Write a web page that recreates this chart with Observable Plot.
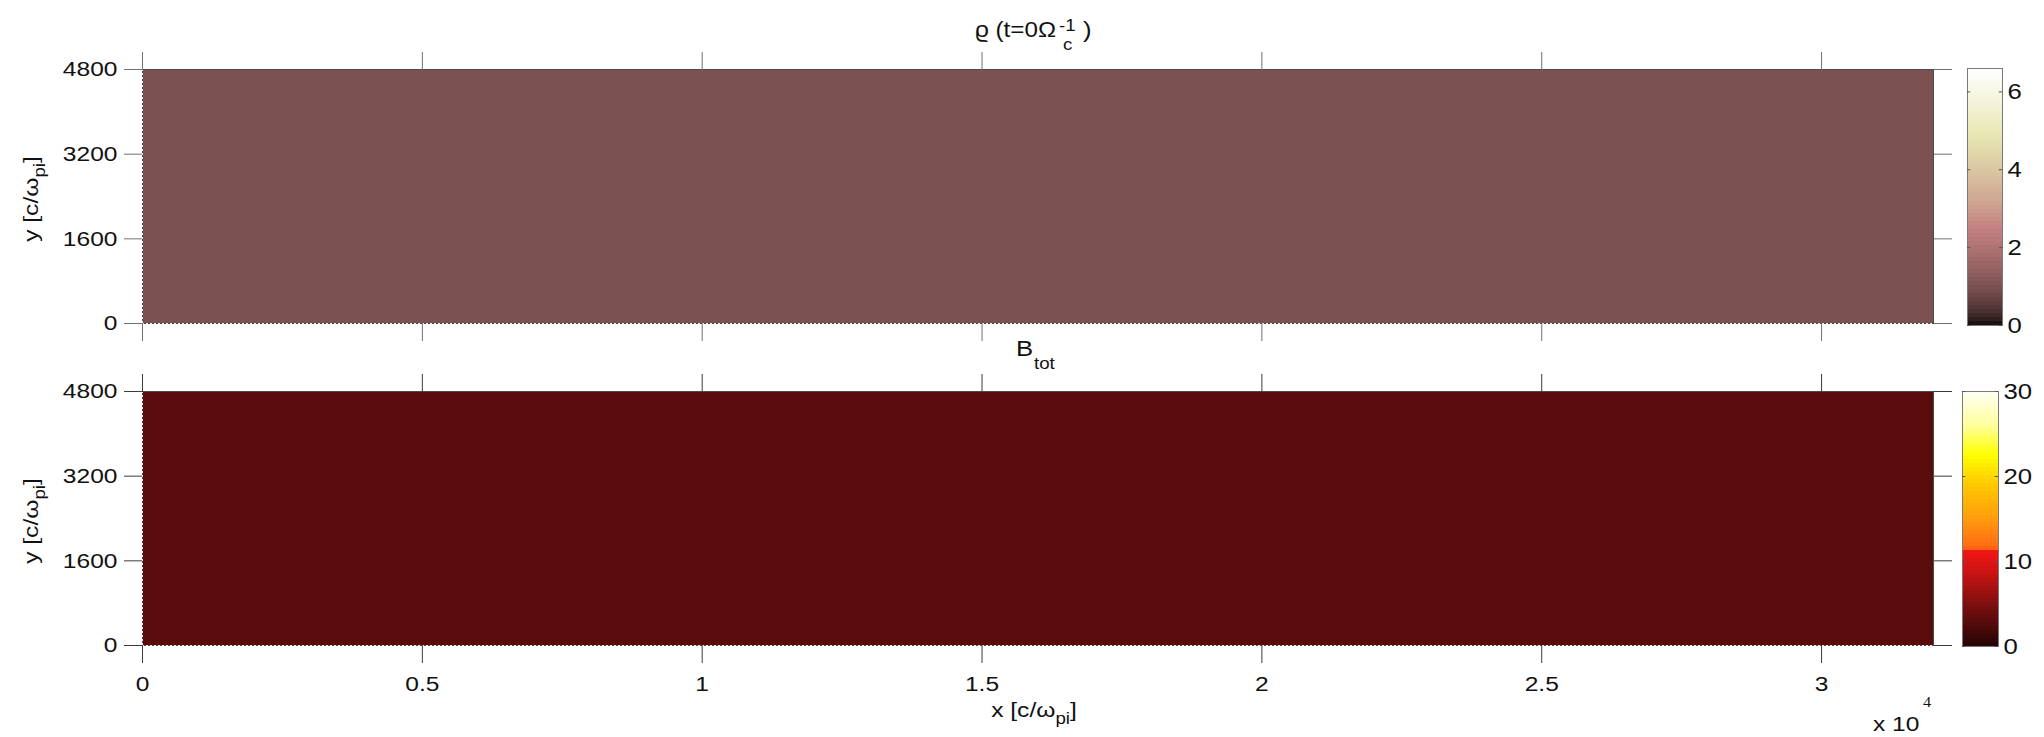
<!DOCTYPE html>
<html>
<head>
<meta charset="utf-8">
<script src="https://cdn.jsdelivr.net/npm/d3@7"></script>
<script src="https://cdn.jsdelivr.net/npm/@observablehq/plot@0.6"></script>
<style>
  body { margin: 0; background: #fff; }
  #fig { position: relative; width: 2044px; height: 737px; overflow: hidden; background: #fff;
         font-family: "Liberation Sans", Arial, Helvetica, sans-serif; }
  #fig svg { position: absolute; left: 0; top: 0; overflow: visible; }
</style>
</head>
<body>
<div id="fig"></div>
<script>
// Simulation box and axis ticks
const xRange = [0, 32000];
const yRange = [0, 4800];
const xTicks = [0, 5000, 10000, 15000, 20000, 25000, 30000];
const yTicks = [0, 1600, 3200, 4800];

// Initial fields (uniform at t = 0)
const rhoCells = [{x1: 0, x2: 32000, y1: 0, y2: 4800, value: 1}];
const bCells = [{x1: 0, x2: 32000, y1: 0, y2: 4800, value: 3}];

// Colour limits and colorbar ticks
const rhoLimits = [0, 6.6];
const rhoBarTicks = [0, 2, 4, 6];
const bLimits = [0, 30];
const bBarTicks = [0, 10, 20, 30];

// Colormap for |B|: dark red -> red -> orange -> yellow -> white
const bStops = [0, 3, 6, 9, 11.3, 11.5, 15, 19, 22.5, 26, 30];
const bColors = ["#250404", "#5a0c0c", "#961010", "#d21414", "#f51616", "#ff6a14",
                 "#ff9c0c", "#ffc800", "#ffff00", "#ffff9c", "#fffff6"];

const W = 2044, H = 737;
const FONT = "\"Liberation Sans\", Arial, Helvetica, sans-serif";
const FS = 21;     // font size
const SX = 1.17;   // horizontal stretch of the lettering

// MATLAB-style "pink" colormap: sqrt((2*gray + hot) / 3)
function pink(t) {
  const c = v => Math.max(0, Math.min(1, v));
  const hot = [c(8 * t / 3), c(8 * t / 3 - 1), c(4 * t - 3)];
  const [r, g, b] = hot.map(h => Math.round(255 * Math.sqrt((2 * t + h) / 3)));
  return `rgb(${r},${g},${b})`;
}
const bScale = d3.scaleLinear().domain(bStops).range(bColors).interpolate(d3.interpolateRgb).clamp(true);
const bInterp = t => bScale(bLimits[0] + t * (bLimits[1] - bLimits[0]));

// Layout boxes (plot frames)
const topBox = {left: 142, right: 1933, top: 69, bottom: 323};
const botBox = {left: 142, right: 1933, top: 391, bottom: 645};
const topBar = {left: 1967, right: 2002, top: 68, bottom: 325};
const botBar = {left: 1962, right: 1998, top: 391, bottom: 646};

const fig = document.getElementById("fig");

function frameOpts(box) {
  return {
    width: W, height: H,
    marginLeft: box.left, marginRight: W - box.right,
    marginTop: box.top, marginBottom: H - box.bottom,
    style: {background: "transparent", fontFamily: FONT, fontSize: FS + "px", color: "#111",
            maxWidth: "none", overflow: "visible"}
  };
}

function panel(box, cells, interp, limits, tickColor, showXLabels) {
  return Plot.plot({
    ...frameOpts(box),
    x: {domain: xRange},
    y: {domain: yRange},
    color: {type: "linear", domain: limits, interpolate: interp},
    marks: [
      Plot.rect(cells, {x1: "x1", x2: "x2", y1: "y1", y2: "y2", fill: "value", shapeRendering: "crispEdges"}),
      Plot.frame({stroke: "#4a4a4a", strokeWidth: 1}),
      Plot.ruleX([xRange[0]], {stroke: "#e6e6e6", strokeDasharray: "2,2"}),
      Plot.ruleY([yRange[0]], {stroke: "#e6e6e6", strokeDasharray: "2,2"}),
      Plot.axisY(yTicks, {anchor: "left", tickSize: 18, tickPadding: 7, fontSize: FS,
                          stroke: tickColor, fill: "#111", label: null, tickFormat: d3.format("d")}),
      Plot.axisY(yTicks, {anchor: "right", tickSize: 18, tickFormat: () => "", stroke: tickColor, label: null}),
      Plot.axisX(xTicks, {anchor: "top", tickSize: 18, tickFormat: () => "", stroke: tickColor, label: null}),
      Plot.axisX(xTicks, {anchor: "bottom", tickSize: 18, tickPadding: 13, fontSize: FS,
                          stroke: tickColor, fill: "#111", label: null,
                          tickFormat: showXLabels ? (d => d3.format("~g")(d / 1e4)) : (() => "")})
    ]
  });
}

function colorbar(box, interp, limits, ticks) {
  const n = 64, step = (limits[1] - limits[0]) / n;
  const bands = d3.range(n).map(i => ({
    y1: limits[0] + i * step, y2: limits[0] + (i + 1) * step, v: limits[0] + (i + 0.5) * step
  }));
  return Plot.plot({
    ...frameOpts(box),
    x: {domain: [0, 1], axis: null},
    y: {domain: limits},
    color: {type: "linear", domain: limits, interpolate: interp},
    marks: [
      Plot.rect(bands, {x1: 0, x2: 1, y1: "y1", y2: "y2", fill: "v", shapeRendering: "crispEdges"}),
      Plot.frame({stroke: "#7a7a7a"}),
      Plot.ruleY(ticks, {x1: 0, x2: 0.09, stroke: "#555"}),
      Plot.ruleY(ticks, {x1: 0.91, x2: 1, stroke: "#555"}),
      Plot.axisY(ticks, {anchor: "right", tickSize: 0, tickPadding: 5, fontSize: FS + 1,
                         fill: "#111", label: null})
    ]
  });
}

// Widen each text element horizontally about its own anchor point
function stretchTexts(svg) {
  d3.select(svg).selectAll("text").each(function () {
    const el = d3.select(this);
    const x = +el.attr("x") || 0, y = +el.attr("y") || 0;
    const t = el.attr("transform") || "";
    el.attr("transform", `${t} translate(${x},${y}) scale(${SX},1) translate(${-x},${-y})`);
  });
}

const p1 = panel(topBox, rhoCells, pink, rhoLimits, "#707070", false);
const p2 = panel(botBox, bCells, bInterp, bLimits, "#3c3c3c", true);
const c1 = colorbar(topBar, pink, rhoLimits, rhoBarTicks);
const c2 = colorbar(botBar, bInterp, bLimits, bBarTicks);
[p1, p2, c1, c2].forEach(s => { stretchTexts(s); fig.appendChild(s); });

// Axis labels with subscripts
function label(svg, x, y, parts, rotate) {
  const t = d3.select(svg).append("text")
    .attr("font-family", FONT).attr("font-size", FS).attr("fill", "#111")
    .attr("text-anchor", "middle")
    .attr("transform", `translate(${x},${y})` + (rotate ? " rotate(-90)" : "") + ` scale(${SX},1)`);
  parts.forEach(p => {
    const s = t.append("tspan").text(p.text);
    if (p.size) s.attr("font-size", p.size);
    if (p.dy) s.attr("dy", p.dy);
  });
  return t;
}

const axisLabelParts = v => [
  {text: v + " [c/\u03C9"},
  {text: "pi", size: 16, dy: 7},
  {text: "]", dy: -7}
];
const midTop = (topBox.top + topBox.bottom) / 2;
const midBot = (botBox.top + botBox.bottom) / 2;
label(p1, 38, midTop + 3, axisLabelParts("y"), true);
label(p2, 38, midBot + 3, axisLabelParts("y"), true);
label(p2, 1034, 717, axisLabelParts("x"), false);

// Left-anchored, widened text helper
function startText(g, x, y, size, str) {
  return g.append("text").attr("text-anchor", "start")
    .attr("transform", `translate(${x},${y}) scale(${SX},1)`)
    .attr("font-size", size).text(str);
}

// Exponent of the x axis
const ex = d3.select(p2).append("g").attr("font-family", FONT).attr("fill", "#111");
startText(ex, 1873, 731, FS, "x 10");
startText(ex, 1923, 707, 14, "4").attr("font-family", "\"Liberation Serif\", \"Times New Roman\", serif");

// Panel title: rho (t = 0 Omega_c^-1), with stacked sub/superscript
const g1 = d3.select(p1).append("g").attr("font-family", FONT).attr("fill", "#111");
g1.append("text").attr("text-anchor", "start").attr("x", 975).attr("y", 37).attr("font-size", FS + 1)
  .attr("textLength", 81).attr("lengthAdjust", "spacingAndGlyphs").text("\u03F1 (t=0\u03A9");
const end1 = 975 + 81;
startText(g1, end1 + 7, 50, 16, "c");
startText(g1, end1 + 3, 31, 16, "-1");
startText(g1, end1 + 27, 37, FS + 1, ")");

// Panel title: B_tot
const g2 = d3.select(p2).append("g").attr("font-family", FONT).attr("fill", "#111");
startText(g2, 1016, 356, FS + 1, "B");
startText(g2, 1034, 369, 16, "tot");
</script>
</body>
</html>
